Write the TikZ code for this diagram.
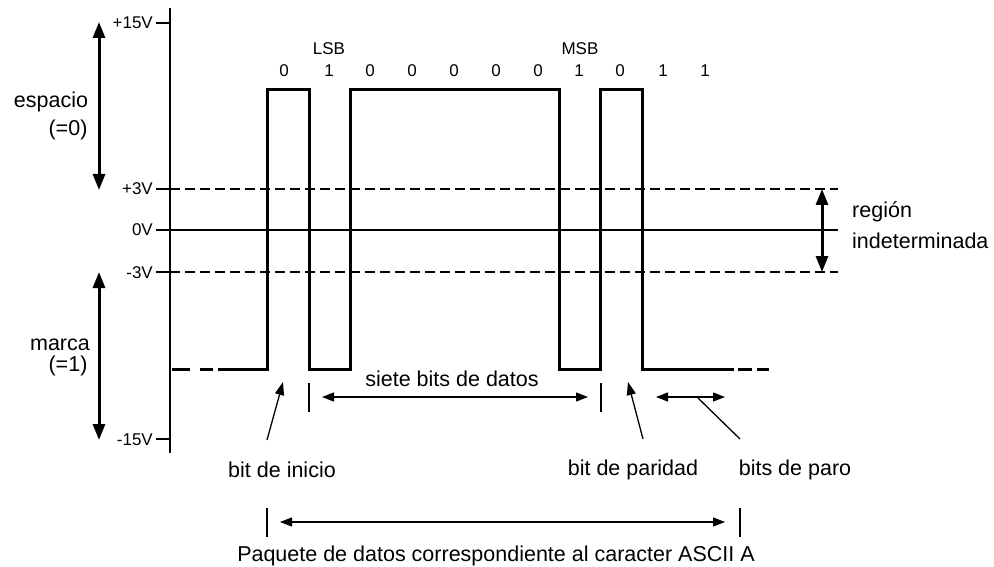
\documentclass[tikz,border=0pt]{standalone}
\usepackage{fontspec}
\setmainfont{Liberation Sans}
\usetikzlibrary{arrows.meta}
\begin{document}
\begin{tikzpicture}[x=1pt,y=-1pt,
  lbl/.style={font=\fontsize{21.5}{24}\selectfont, inner sep=0pt, anchor=base},
  sml/.style={font=\fontsize{17}{19}\selectfont, inner sep=0pt, anchor=base},
  wave/.style={line width=3pt, line join=miter},
  axisline/.style={line width=1.4pt},
  thr/.style={line width=1.3pt, dash pattern=on 10pt off 5pt},
  bigarr/.style={line width=3pt, {Triangle[width=12pt,length=16pt]}-{Triangle[width=12pt,length=16pt]}},
  thinarr/.style={line width=1.3pt, {Triangle[width=9pt,length=12pt]}-{Triangle[width=9pt,length=12pt]}},
  ptr/.style={line width=1.3pt, -{Triangle[width=9pt,length=13pt]}},
  tickline/.style={line width=1.3pt}]
\useasboundingbox (0,0) rectangle (994,567);

% axis
\coordinate (axT) at (170,8);
\coordinate (axB) at (170,453);
\draw[axisline] (axT) -- (axB);

% level labels and ticks
\node[sml, anchor=base east] (l15p) at (153,29) {+15V};
\node[sml, anchor=base east] (l3p) at (153,195) {+3V};
\node[sml, anchor=base east] (l0) at (153,236) {0V};
\node[sml, anchor=base east] (l3m) at (153,278) {-3V};
\node[sml, anchor=base east] (l15m) at (153,445) {-15V};
\coordinate (t15p) at (170,23);
\coordinate (t15m) at (170,439);
\draw[axisline] (156,23) -- (t15p);
\draw[axisline] (156,439) -- (t15m);
\draw[axisline] (156,189) -- (170,189);
\draw[axisline] (156,272) -- (170,272);
\coordinate (r3p) at (838,189);
\coordinate (r0) at (838,230);
\coordinate (r3m) at (838,272);
\draw[thr] (170,189) -- (r3p);
\draw[thr] (170,272) -- (r3m);
\draw[axisline] (156,230) -- (r0);

% left arrows
\coordinate (espT) at (99,22);
\coordinate (espB) at (99,190);
\coordinate (marT) at (99,272);
\coordinate (marB) at (99,440);
\draw[bigarr] (espT) -- (espB);
\draw[bigarr] (marT) -- (marB);
\node[lbl] (esp) at (51,108) {espacio};
\node[lbl] (esp0) at (68,136) {(=0)};
\node[lbl] (mar) at (60,350) {marca};
\node[lbl] (mar1) at (68,371) {(=1)};

% region indeterminada
\coordinate (riT) at (822,189);
\coordinate (riB) at (822,272);
\draw[bigarr] (riT) -- (riB);
\node[lbl, anchor=base west] (reg1) at (852,218) {región};
\node[lbl, anchor=base west] (reg2) at (852,248) {indeterminada};

% bits
\node[sml] (lsb) at (329,55) {LSB};
\node[sml] (msb) at (580,55) {MSB};
\foreach \x/\b [count=\i] in {284/0,329/1,370/0,412/0,454/0,496/0,538/0,579/1,620/0,663/1,705/1}
  \node[sml] (bit\i) at (\x,77) {\b};

% waveform
\draw[wave] (218,369) -- (267,369) -- (267,90) -- (309,90) -- (309,369) -- (350,369)
  -- (350,90) -- (559,90) -- (559,369) -- (600,369) -- (600,90) -- (642,90)
  -- (642,369) -- (734,369);
\draw[wave] (172,369) -- (190,369) (200,369) -- (213,369)
  (738,369) -- (752,369) (757,369) -- (769,369);

% siete bits de datos
\draw[tickline] (309,383) -- (309,412);
\draw[tickline] (601,383) -- (601,412);
\coordinate (sdL) at (322,397);
\coordinate (sdR) at (588,397);
\draw[thinarr] (sdL) -- (sdR);
\node[lbl] (siete) at (452,386) {siete bits de datos};

% bit de inicio
\node[lbl] (inicio) at (282,477) {bit de inicio};
\coordinate (inT) at (267,440);
\coordinate (inH) at (283,382);
\draw[ptr] (inT) -- (inH);

% bit de paridad
\node[lbl] (paridad) at (633,475) {bit de paridad};
\coordinate (paT) at (643,439);
\coordinate (paH) at (628,382);
\draw[ptr] (paT) -- (paH);

% bits de paro
\node[lbl] (paro) at (795,475) {bits de paro};
\coordinate (spL) at (656,397);
\coordinate (spR) at (725,397);
\draw[thinarr] (spL) -- (spR);
\coordinate (spA) at (698,398);
\coordinate (spB) at (740,439);
\draw[tickline] (spA) -- (spB);

% paquete
\draw[tickline] (267,508) -- (267,537);
\draw[tickline] (740,508) -- (740,537);
\coordinate (pkL) at (280,522);
\coordinate (pkR) at (725,522);
\draw[thinarr] (pkL) -- (pkR);
\node[lbl] (paquete) at (496,561) {Paquete de datos correspondiente al caracter ASCII A};
\end{tikzpicture}
\end{document}
